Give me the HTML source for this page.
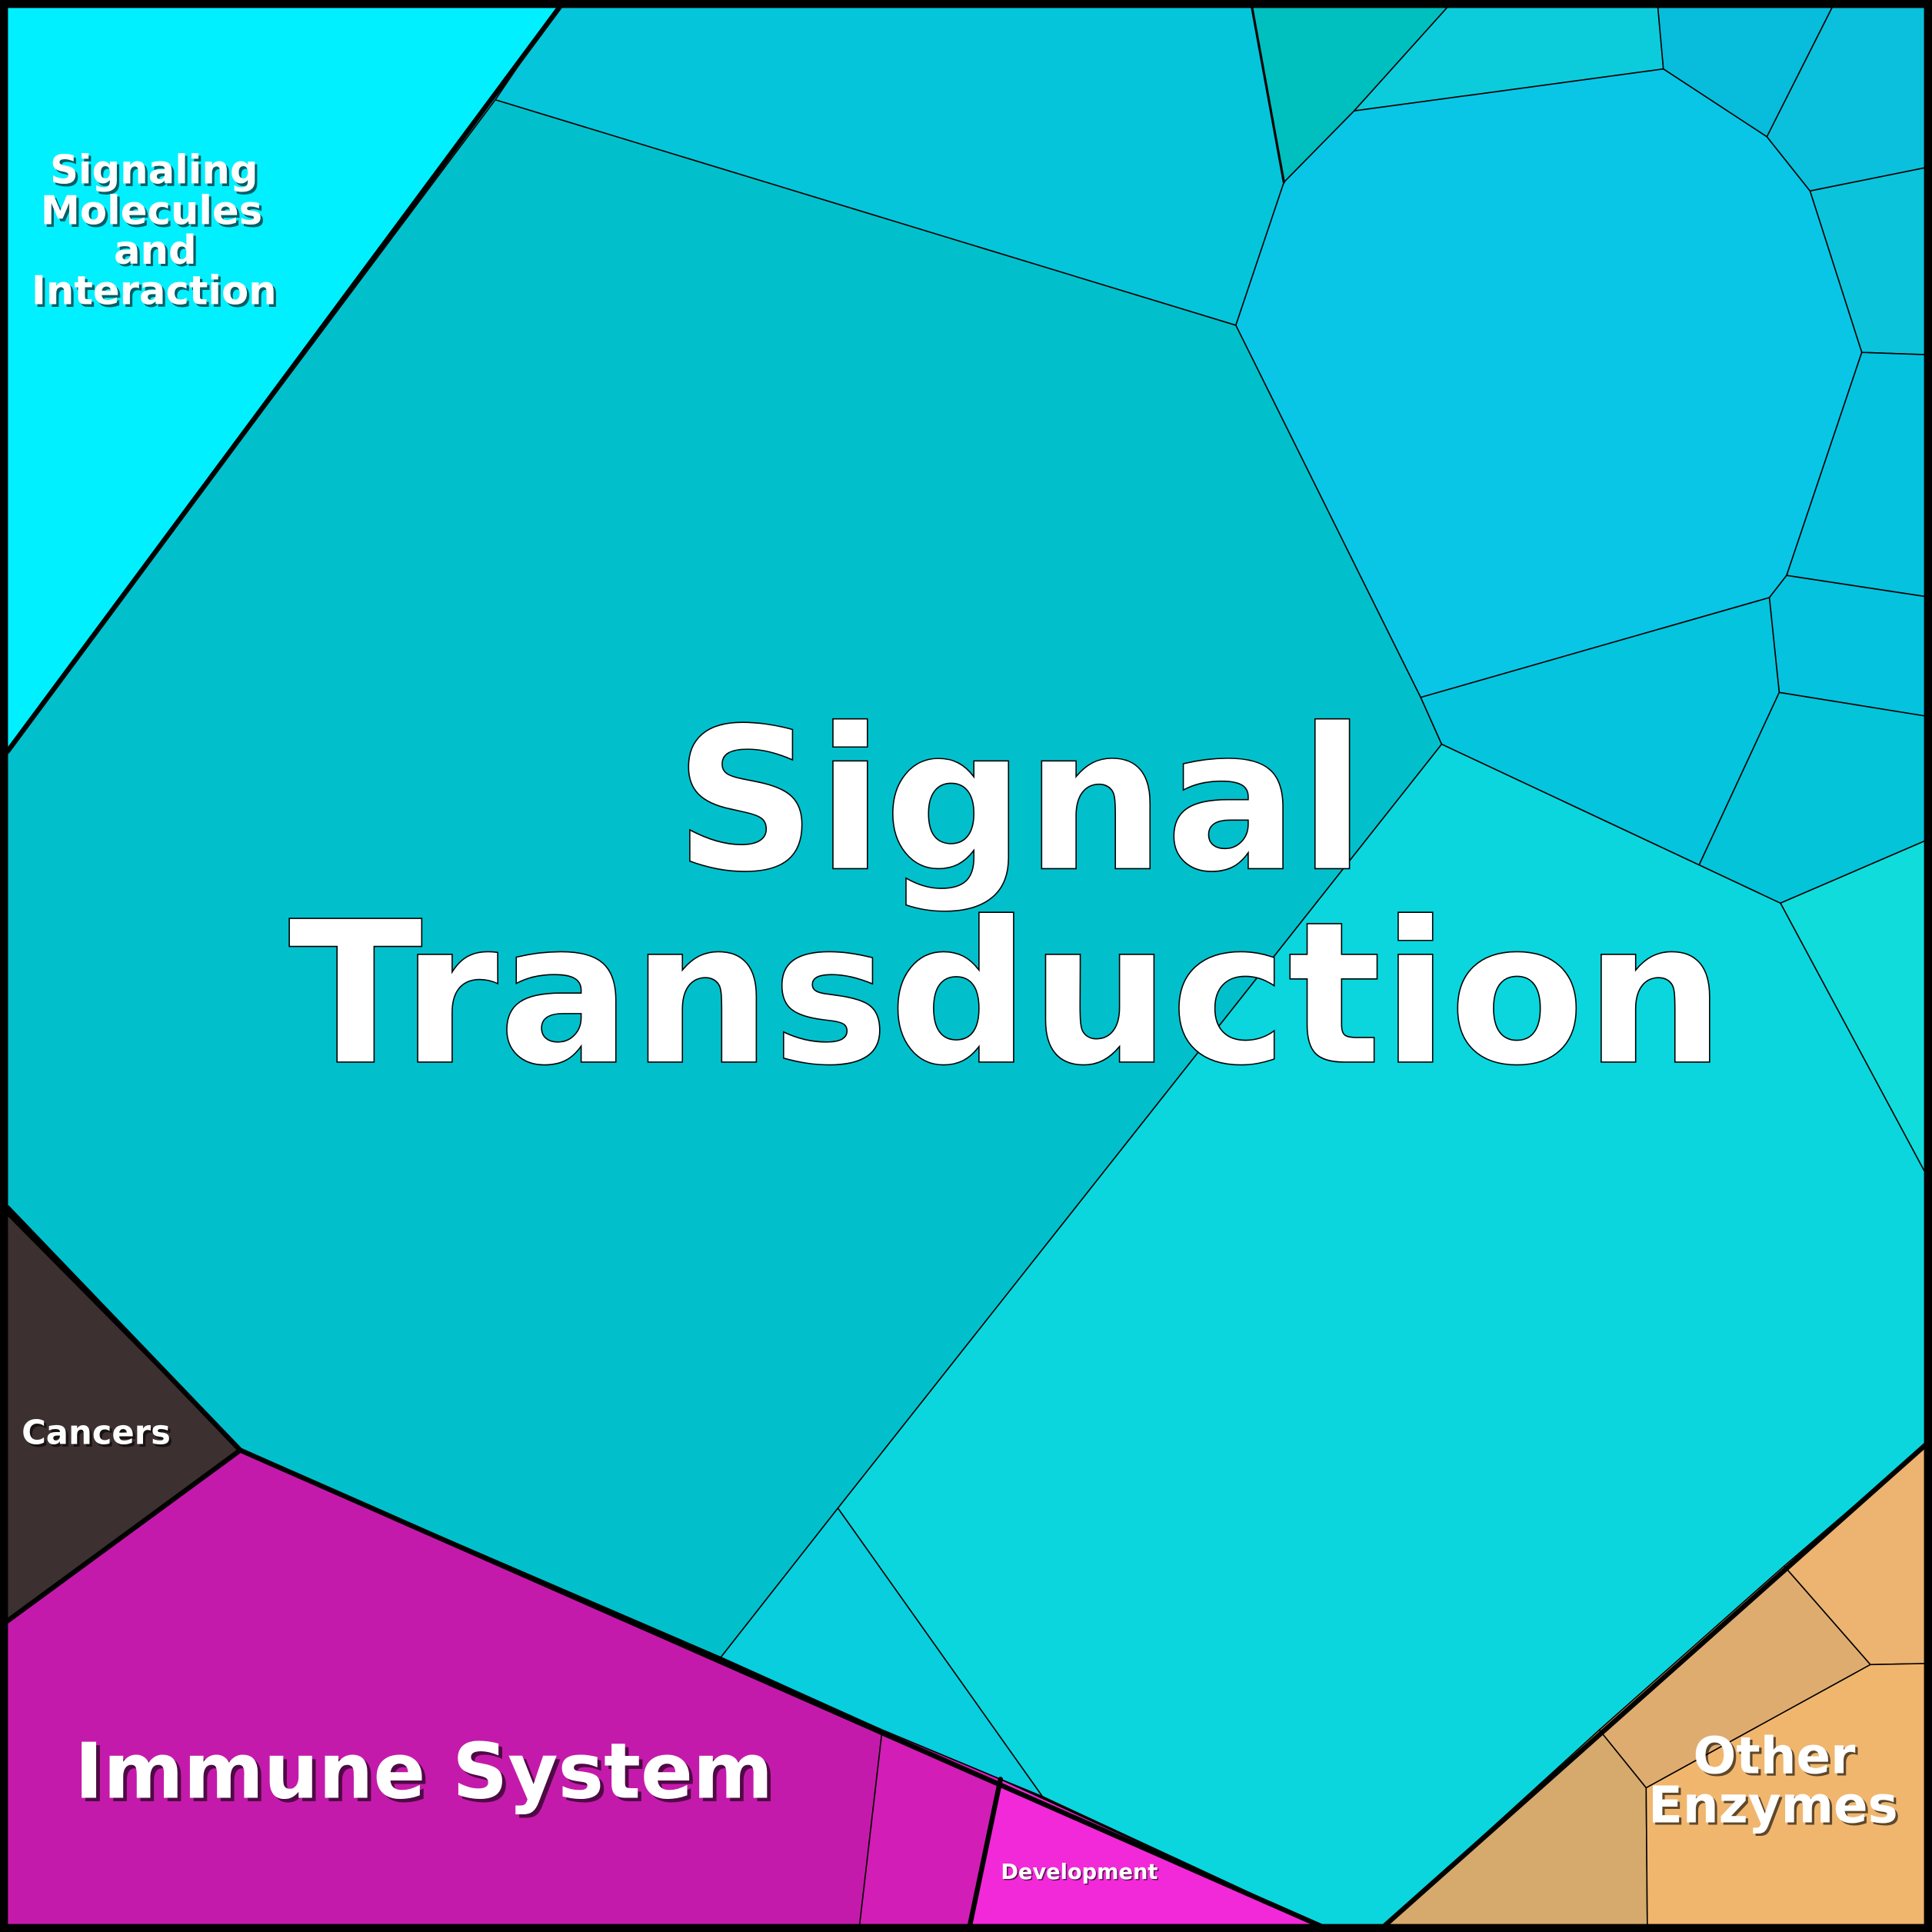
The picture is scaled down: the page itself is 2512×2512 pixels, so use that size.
<!DOCTYPE html>
<html><head><meta charset="utf-8"><style>html,body{margin:0;padding:0;background:#000}svg{display:block}
text{font-family:"DejaVu Sans","Liberation Sans",sans-serif;font-weight:bold;fill:#fff;text-anchor:middle}
.s{fill:#000;opacity:.6}</style></head><body>
<svg xmlns="http://www.w3.org/2000/svg" width="2512" height="2512" viewBox="0 0 1568 1568">
<g stroke="#000" stroke-width="1" stroke-linejoin="round">
<polygon fill="#00f0ff" points="0,0 457,0 402,81 6,610 0,610"/>
<polygon fill="#05c5da" points="402,81 457,0 1015,0 1042,148 1003,264"/>
<polygon fill="#00bfbf" points="1015,0 1180,0 1099,90 1042,148"/>
<polygon fill="#0cccdc" points="1099,90 1180,0 1345,0 1350,56"/>
<polygon fill="#08bcdc" points="1345,0 1490,0 1434,111 1350,56"/>
<polygon fill="#0bc0dc" points="1490,0 1568,0 1568,135 1469,155 1434,111"/>
<polygon fill="#0bc4dc" points="1469,155 1568,135 1568,288 1511,286"/>
<polygon fill="#09c6e6" points="1099,90 1350,56 1434,111 1469,155 1511,286 1450,467 1436,485 1153,566 1003,264 1042,148"/>
<polygon fill="#05c2de" points="1511,286 1568,288 1568,485 1450,467"/>
<polygon fill="#05c2de" points="1450,467 1568,485 1568,582 1444,562 1436,485"/>
<polygon fill="#05c4de" points="1153,566 1436,485 1444,562 1379,702 1170,604"/>
<polygon fill="#03c4d8" points="1444,562 1568,582 1568,680 1445,733 1379,702"/>
<polygon fill="#10dcdc" points="1445,733 1568,680 1568,962"/>
<polygon fill="#0bd6dd" points="1170,604 1445,733 1568,962 1568,1168 1118,1568 1083,1568 846,1458 680,1224"/>
<polygon fill="#08cede" points="680,1224 846,1458 812,1444 716,1404 585,1345"/>
<polygon fill="#02c0cb" points="6,610 402,81 1003,264 1153,566 1170,604 680,1224 585,1345 195,1177 6,980"/>
<polygon fill="#3d3030" points="0,980 195,1177 0,1320"/>
<polygon fill="#c41aab" points="0,1320 195,1177 716,1404 697,1568 0,1568"/>
<polygon fill="#d21db6" points="716,1404 812,1444 786,1568 697,1568"/>
<polygon fill="#f229d8" points="812,1444 1083,1568 786,1568"/>
<polygon fill="#ecb470" points="1568,1168 1448,1271 1518,1351 1568,1350"/>
<polygon fill="#dfac70" points="1448,1271 1298,1404 1336,1451 1518,1351"/>
<polygon fill="#d6aa6c" points="1298,1404 1118,1568 1337,1568 1336,1451"/>
<polygon fill="#f0b66e" points="1336,1451 1518,1351 1568,1350 1568,1568 1337,1568"/>
</g>
<g stroke="#000" fill="none" stroke-width="4" stroke-linecap="round">
<polyline points="457,2 6,610"/>
<polyline points="6,980 195,1177 0,1320"/>
<polyline points="195,1177 1083,1568"/>
<polyline points="812,1444 786,1568"/>
<polyline points="1568,1168 1118,1568"/>
<polyline points="1015,0 1042,148" stroke-width="2"/>
</g>
<rect x="3" y="3" width="1562" height="1562" fill="none" stroke="#000" stroke-width="7"/>
<g font-size="160" stroke="#000" stroke-width="1">
<text x="828" y="705">Signal</text>
<text x="817" y="862">Transduction</text>
</g>
<g font-size="32">
<text class="s" x="127" y="151">Signaling</text><text x="125" y="149">Signaling</text>
<text class="s" x="125" y="184">Molecules</text><text x="123" y="182">Molecules</text>
<text class="s" x="128" y="216">and</text><text x="126" y="214">and</text>
<text class="s" x="127" y="249">Interaction</text><text x="125" y="247">Interaction</text>
</g>
<g font-size="27"><text class="s" x="80" y="1174">Cancers</text><text x="78" y="1172">Cancers</text></g>
<g font-size="62.5"><text class="s" x="347" y="1462">Immune System</text><text x="344" y="1459">Immune System</text></g>
<g font-size="41">
<text class="s" x="1442" y="1441">Other</text><text x="1440" y="1439">Other</text>
<text class="s" x="1441" y="1481">Enzymes</text><text x="1439" y="1479">Enzymes</text>
</g>
<g font-size="17"><text class="s" x="877" y="1526">Development</text><text x="876" y="1525">Development</text></g>
</svg>
</body></html>
